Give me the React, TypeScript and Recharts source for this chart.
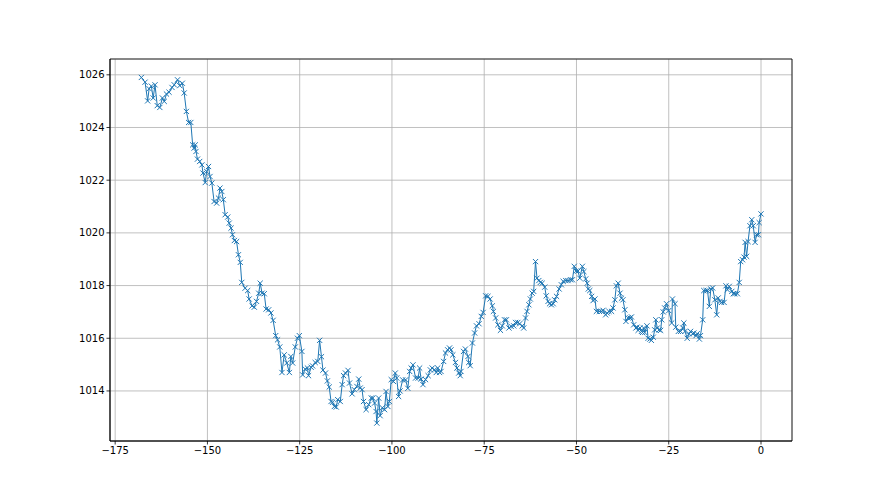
import React from "react";
import { LineChart, Line, XAxis, YAxis, CartesianGrid, ReferenceArea } from "recharts";

const hours: number[] = [
  -167.9, -166.9, -166.2, -165.8, -165.2, -164.7, -164.2, -163.6, -162.9, -162.2,
  -161.7, -161.1, -160.4, -159.6, -159.0, -158.1, -157.5, -156.8, -156.3, -155.7,
  -155.1, -154.5, -154.0, -153.6, -153.3, -153.1, -152.7, -152.1, -151.5, -151.2,
  -150.6, -150.2, -149.7, -149.3, -148.8, -148.2, -147.5, -147.0, -146.6, -146.1,
  -145.7, -145.2, -144.5, -144.1, -143.6, -143.2, -142.7, -142.1, -141.6, -141.1,
  -140.7, -139.8, -139.1, -138.7, -137.9, -137.3, -136.7, -136.1, -135.7, -135.2,
  -134.6, -134.1, -133.4, -132.8, -132.2, -131.5, -131.0, -130.4, -129.8, -129.2,
  -128.5, -127.8, -127.4, -126.9, -126.2, -125.6, -125.1, -124.4, -124.2, -123.5,
  -122.9, -122.6, -121.9, -121.5, -120.8, -120.1, -119.6, -119.1, -118.7, -118.0,
  -117.5, -117.0, -116.5, -116.1, -115.6, -115.1, -114.7, -114.0, -113.5, -113.1,
  -112.6, -111.9, -111.5, -110.8, -110.2, -109.5, -109.0, -108.6, -108.1, -107.7,
  -107.0, -106.3, -105.6, -105.2, -104.7, -104.3, -104.1, -103.6, -103.2, -102.6,
  -102.0, -101.6, -101.1, -100.7, -100.2, -99.6, -99.1, -98.7, -98.2, -97.8,
  -97.1, -96.3, -95.7, -95.2, -94.8, -94.3, -93.6, -92.9, -92.5, -92.1,
  -91.6, -90.9, -90.2, -89.6, -89.1, -88.5, -88.0, -87.6, -87.1, -86.7,
  -86.0, -85.5, -84.9, -84.4, -84.0, -83.5, -82.8, -82.4, -81.9, -81.5,
  -81.3, -80.6, -80.1, -79.4, -79.2, -78.8, -78.2, -77.6, -77.1, -76.4,
  -75.8, -75.3, -74.6, -74.0, -73.4, -72.8, -72.5, -71.9, -71.3, -70.6,
  -70.1, -69.5, -69.0, -68.3, -67.7, -67.0, -66.5, -65.9, -65.4, -64.7,
  -64.3, -63.8, -63.4, -62.9, -62.5, -62.0, -61.6, -61.1, -60.7, -60.2,
  -59.8, -59.3, -58.6, -58.2, -57.7, -57.3, -56.8, -56.3, -55.9, -55.4,
  -54.7, -54.1, -53.6, -52.9, -52.3, -51.6, -51.1, -50.6, -50.1, -49.6,
  -49.1, -48.4, -48.0, -47.5, -47.1, -46.8, -46.4, -45.9, -45.5, -45.0,
  -44.6, -43.8, -43.2, -42.8, -42.1, -41.7, -41.2, -40.5, -40.1, -39.6,
  -39.2, -38.7, -38.2, -37.8, -37.4, -36.9, -36.6, -36.0, -35.5, -35.1,
  -34.5, -33.9, -33.6, -33.3, -32.8, -32.4, -32.1, -31.8, -31.5, -30.9,
  -30.6, -30.1, -29.7, -29.2, -28.8, -28.5, -28.1, -27.6, -27.2, -26.9,
  -26.5, -26.1, -25.6, -25.0, -24.2, -24.0, -23.3, -23.1, -22.4, -21.8,
  -21.2, -20.9, -20.6, -20.0, -19.5, -19.1, -18.5, -18.2, -17.6, -17.3,
  -16.7, -16.4, -15.8, -15.5, -14.9, -14.5, -14.0, -13.6, -13.1, -12.5,
  -12.0, -11.6, -11.1, -10.7, -10.0, -9.5, -9.1, -8.6, -7.9, -7.5,
  -7.1, -6.4, -5.9, -5.5, -5.0, -4.6, -4.3, -3.9, -3.5, -3.0,
  -2.5, -2.1, -1.6, -1.2, -0.7, -0.5, 0.0,
];

const pressure: number[] = [
  1025.90, 1025.72, 1025.01, 1025.47, 1025.57, 1025.12, 1025.62, 1024.83, 1024.76, 1025.12,
  1024.99, 1025.27, 1025.34, 1025.52, 1025.62, 1025.81, 1025.59, 1025.68, 1025.31, 1024.61,
  1024.19, 1024.19, 1023.34, 1023.22, 1023.34, 1023.09, 1022.80, 1022.71, 1022.58, 1022.27,
  1021.91, 1022.33, 1022.52, 1022.14, 1021.89, 1021.19, 1021.13, 1021.32, 1021.70, 1021.57,
  1021.26, 1020.69, 1020.60, 1020.37, 1020.18, 1019.93, 1019.71, 1019.67, 1019.17, 1018.88,
  1018.12, 1017.90, 1017.81, 1017.49, 1017.23, 1017.18, 1017.40, 1017.71, 1018.09, 1017.71,
  1017.69, 1017.11, 1017.08, 1016.96, 1016.68, 1016.10, 1015.94, 1015.67, 1014.70, 1015.37,
  1015.06, 1014.70, 1015.31, 1015.06, 1015.67, 1016.00, 1016.10, 1015.50, 1014.61, 1014.83,
  1014.87, 1014.58, 1014.90, 1014.95, 1015.08, 1015.12, 1015.92, 1015.30, 1014.79, 1014.68,
  1014.38, 1014.15, 1013.60, 1013.57, 1013.41, 1013.39, 1013.67, 1013.60, 1014.24, 1014.58,
  1014.68, 1014.78, 1014.30, 1013.89, 1014.05, 1014.17, 1014.45, 1014.11, 1014.05, 1013.60,
  1013.29, 1013.48, 1013.73, 1013.73, 1013.54, 1013.22, 1012.78, 1013.73, 1013.06, 1013.36,
  1013.29, 1013.98, 1013.41, 1013.60, 1014.43, 1014.36, 1014.68, 1014.49, 1013.79, 1014.00,
  1014.42, 1014.42, 1014.10, 1014.74, 1014.87, 1014.99, 1014.49, 1014.49, 1014.87, 1014.45,
  1014.24, 1014.43, 1014.58, 1014.80, 1014.87, 1014.80, 1014.70, 1014.87, 1014.70, 1014.74,
  1015.12, 1015.44, 1015.56, 1015.63, 1015.56, 1015.37, 1015.08, 1014.87, 1014.68, 1014.58,
  1014.74, 1015.50, 1015.59, 1015.31, 1015.08, 1014.96, 1015.82, 1016.20, 1016.47, 1016.55,
  1016.83, 1016.98, 1017.61, 1017.59, 1017.49, 1017.23, 1017.02, 1016.77, 1016.51, 1016.30,
  1016.47, 1016.70, 1016.70, 1016.39, 1016.45, 1016.47, 1016.60, 1016.60, 1016.55, 1016.47,
  1016.39, 1016.77, 1017.02, 1017.27, 1017.49, 1017.71, 1017.78, 1018.91, 1018.28, 1018.19,
  1018.12, 1018.09, 1017.94, 1017.61, 1017.40, 1017.31, 1017.27, 1017.31, 1017.46, 1017.59,
  1017.87, 1018.03, 1018.16, 1018.19, 1018.19, 1018.22, 1018.22, 1018.73, 1018.55, 1018.55,
  1018.28, 1018.73, 1018.53, 1018.25, 1018.09, 1017.87, 1017.81, 1017.59, 1017.43, 1017.49,
  1017.02, 1017.02, 1017.02, 1017.06, 1016.89, 1016.96, 1017.02, 1017.02, 1017.15, 1017.46,
  1017.99, 1018.09, 1017.71, 1017.52, 1017.46, 1017.08, 1016.64, 1016.77, 1016.77, 1016.81,
  1016.51, 1016.39, 1016.42, 1016.30, 1016.39, 1016.26, 1016.22, 1016.39, 1016.22, 1016.47,
  1016.00, 1015.97, 1015.92, 1016.04, 1016.32, 1016.70, 1016.39, 1016.32, 1016.30, 1016.70,
  1017.00, 1017.15, 1017.31, 1017.05, 1016.58, 1017.49, 1017.31, 1016.42, 1016.26, 1016.26,
  1016.39, 1016.58, 1016.26, 1016.00, 1016.17, 1016.26, 1016.17, 1016.20, 1016.10, 1016.17,
  1015.97, 1016.10, 1016.70, 1017.81, 1017.81, 1017.81, 1017.21, 1017.87, 1017.91, 1017.46,
  1016.89, 1017.53, 1017.40, 1017.36, 1017.36, 1017.99, 1017.84, 1017.97, 1017.78, 1017.69,
  1017.69, 1017.69, 1018.12, 1018.91, 1018.98, 1019.08, 1019.64, 1019.11, 1019.67, 1020.27,
  1020.50, 1020.27, 1019.64, 1019.93, 1019.93, 1020.39, 1020.72,
];

const xTicks: number[] = [-175, -150, -125, -100, -75, -50, -25, 0];
const yTicks: number[] = [1014, 1016, 1018, 1020, 1022, 1024, 1026];

const X_DOMAIN: [number, number] = [-176.4, 8.4];
const Y_DOMAIN: [number, number] = [1012.1, 1026.6];

const data = hours.map((h, i) => ({ h, p: pressure[i] }));

const COLOR = "#1f77b4";
const FONT = "DejaVu Sans, sans-serif";

const XMark = (props: any) => {
  const { cx, cy, index } = props;
  if (cx == null || cy == null) return <g key={`m${index}`} />;
  const s = 2.6;
  return (
    <path
      key={`m${index}`}
      d={`M${cx - s},${cy - s}L${cx + s},${cy + s}M${cx - s},${cy + s}L${cx + s},${cy - s}`}
      stroke={COLOR}
      strokeWidth={1}
      fill="none"
    />
  );
};

const fmt = (v: number) => String(v).replace("-", "\u2212");

export default function App() {
  return (
    <div style={{ position: "absolute", left: 0, top: 0, width: 880, height: 495, background: "#fff" }}>
      <LineChart
        width={880}
        height={495}
        data={data}
        margin={{ top: 59, right: 88, bottom: 24, left: 0 }}
      >
        <CartesianGrid stroke="#b0b0b0" strokeWidth={0.8} />
        <XAxis
          dataKey="h"
          type="number"
          domain={X_DOMAIN}
          ticks={xTicks}
          allowDataOverflow
          height={30}
          tickFormatter={fmt}
          axisLine={{ stroke: "#000", strokeWidth: 0.8 }}
          tickLine={{ stroke: "#000", strokeWidth: 0.8 }}
          tickSize={3.5}
          tickMargin={2}
          tick={{ fill: "#000", fontSize: 10, fontFamily: FONT }}
        />
        <YAxis
          dataKey="p"
          type="number"
          domain={Y_DOMAIN}
          ticks={yTicks}
          allowDataOverflow
          width={110}
          tickFormatter={fmt}
          axisLine={{ stroke: "#000", strokeWidth: 0.8 }}
          tickLine={{ stroke: "#000", strokeWidth: 0.8 }}
          tickSize={3.5}
          tickMargin={2}
          tick={{ fill: "#000", fontSize: 10, fontFamily: FONT }}
        />
        <ReferenceArea
          x1={X_DOMAIN[0]}
          x2={X_DOMAIN[1]}
          y1={Y_DOMAIN[0]}
          y2={Y_DOMAIN[1]}
          fill="none"
          stroke="#000"
          strokeWidth={0.8}
          ifOverflow="visible"
        />
        <Line
          type="linear"
          dataKey="p"
          stroke={COLOR}
          strokeWidth={1}
          dot={XMark}
          activeDot={false}
          isAnimationActive={false}
        />
      </LineChart>
    </div>
  );
}
